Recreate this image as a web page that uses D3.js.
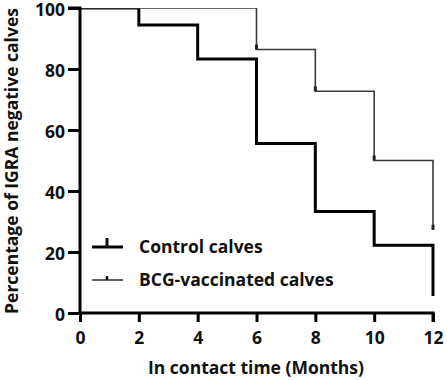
<!DOCTYPE html>
<html><head><meta charset="utf-8">
<script src="https://cdn.jsdelivr.net/npm/d3@7"></script>
<style>body{margin:0;background:#fff}svg{display:block}text{font-family:"Open Sans",sans-serif;font-weight:bold;fill:#111}</style>
</head><body><svg id="c" width="447" height="380"></svg>
<script>
const months = [0, 2, 4, 6, 8, 10, 12];
const controlValues = [100, 94.4, 83.3, 55.6, 33.3, 22.2, 5.6];
const bcgValues = [100, 100, 100, 86.4, 72.7, 50.0, 27.3];
const bcgCensored = [6, 8, 10, 12];
const xTicks = [0, 2, 4, 6, 8, 10, 12];
const yTicks = [0, 20, 40, 60, 80, 100];
const seriesNames = ["Control calves", "BCG-vaccinated calves"];

const FS = 17.5;
const svg = d3.select("#c");
const x = d3.scaleLinear().domain([0, 12]).range([80, 433]);
const y = d3.scaleLinear().domain([0, 100]).range([313, 8]);

svg.append("defs").append("clipPath").attr("id","pc").append("rect")
  .attr("x",78).attr("y",8).attr("width",365).attr("height",310);

const step = d3.line().x(d => x(d[0])).y(d => y(d[1])).curve(d3.curveStepAfter);
const stepData = vals => months.map((m,i)=>[m, vals[i]]);
const plot = svg.append("g").attr("clip-path","url(#pc)");
// Control
plot.append("path").attr("d", step(stepData(controlValues))).attr("fill","none").attr("stroke","#000").attr("stroke-width",3);
// BCG
plot.append("path").attr("d", step(stepData(bcgValues))).attr("fill","none").attr("stroke","#3a3a3a").attr("stroke-width",1.6);
bcgCensored.forEach(m=>{
  const v = bcgValues[months.indexOf(m)];
  plot.append("line").attr("x1",x(m)).attr("x2",x(m)).attr("y1",y(v)).attr("y2",y(v)-5).attr("stroke","#222").attr("stroke-width",3);
});

// axes
const ya = svg.append("g").attr("transform","translate(80,0)")
  .call(d3.axisLeft(y).tickValues(yTicks).tickSize(12).tickPadding(3));
const xa = svg.append("g").attr("transform","translate(0,313)")
  .call(d3.axisBottom(x).tickValues(xTicks).tickSize(9).tickPadding(10));
[ya, xa].forEach(g=>{
  g.select(".domain").attr("stroke","#000").attr("stroke-width",3);
  g.selectAll(".tick line").attr("stroke","#000").attr("stroke-width",3);
  g.selectAll(".tick text").attr("font-size",FS).attr("font-family","Open Sans, sans-serif").attr("font-weight","bold").attr("fill","#111");
});
ya.selectAll(".tick text").attr("dy","0.42em");
ya.select(".domain").attr("d","M-12,8H0V313");
xa.select(".domain").attr("d","M80,0H433V9");

svg.append("text").attr("x",256).attr("y",374).attr("text-anchor","middle").attr("font-size",FS).text("In contact time (Months)");
svg.append("text").attr("transform","translate(18,161) rotate(-90)").attr("text-anchor","middle").attr("font-size",FS).text("Percentage of IGRA negative calves");

// legend
const leg = [{y:247, w:3, col:"#000", th:9, tw:3},{y:280, w:1.6, col:"#3a3a3a", th:4, tw:2.5}];
leg.forEach((l,i)=>{
  svg.append("line").attr("x1",92).attr("x2",123).attr("y1",l.y).attr("y2",l.y).attr("stroke",l.col).attr("stroke-width",l.w);
  svg.append("line").attr("x1",107).attr("x2",107).attr("y1",l.y).attr("y2",l.y-l.th).attr("stroke","#111").attr("stroke-width",l.tw);
  svg.append("text").attr("x",139).attr("y",l.y+6).attr("font-size",FS).text(seriesNames[i]);
});
</script></body></html>
